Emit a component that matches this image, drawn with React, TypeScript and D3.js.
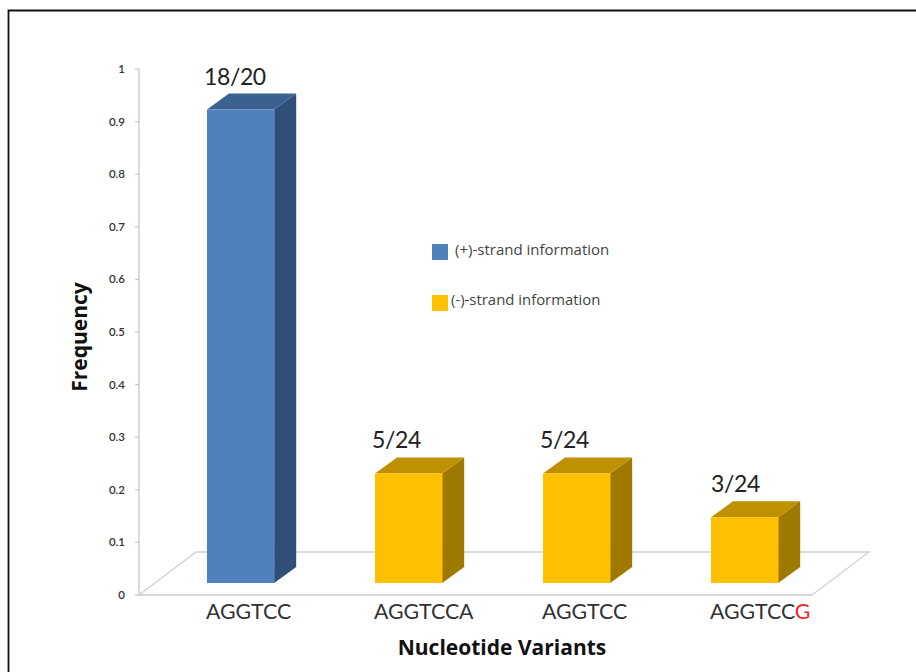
import React from "react";
import * as d3 from "d3";

const categories = ["AGGTCC", "AGGTCCA", "AGGTCC", "AGGTCCG"];
const fractions = ["18/20", "5/24", "5/24", "3/24"];
const frequencies = [18 / 20, 5 / 24, 5 / 24, 3 / 24];
const strands = ["plus", "minus", "minus", "minus"];
const yTicks = [0, 0.1, 0.2, 0.3, 0.4, 0.5, 0.6, 0.7, 0.8, 0.9, 1];
const legendLabels = ["(+)-strand information", "(-)-strand information"];

const LABEL_FONT = "Lato, 'Open Sans', sans-serif";
const TITLE_FONT = "'Open Sans', Lato, sans-serif";
const palette: Record<string, { front: string; top: string; side: string }> = {
  plus: { front: "#4f81bd", top: "#3b6191", side: "#2f4e78" },
  minus: { front: "#ffc000", top: "#bf9000", side: "#a07a00" },
};

const axisX = 139;
const floorDepth = { dx: 57, dy: -43 };
const barDepth = { dx: 22, dy: -16 };
const barLift = 12;

export default function App() {
  const y = d3.scaleLinear().domain([0, 1]).range([595, 69]);
  const x = d3.scaleBand<number>().domain(d3.range(4)).range([156.6, 828.6]).paddingInner(0.6).paddingOuter(0.3);
  const floorRight = 812;
  const base = y(0);
  const floor = d3.line()([
    [axisX, base],
    [axisX + floorDepth.dx, base + floorDepth.dy],
    [floorRight + floorDepth.dx, base + floorDepth.dy],
    [floorRight, base],
  ]);

  return (
    <svg
      width={916}
      height={672}
      style={{ position: "absolute", left: 0, top: 0, background: "#fff", fontFamily: LABEL_FONT }}
    >
      {/* Outer frame: left and top rules only */}
      <path d="M8.5 672V10.5H916" fill="none" stroke="#111" strokeWidth={1.8} />

      {/* Floor and vertical axis */}
      <path d={floor ?? ""} fill="none" stroke="#d0d0d0" strokeWidth={1.3} />
      <line x1={axisX} x2={floorRight} y1={base} y2={base} stroke="#c8c8c8" strokeWidth={1.3} />
      <line x1={axisX} x2={axisX} y1={y(1)} y2={base} stroke="#c8c8c8" strokeWidth={1.3} />
      {yTicks.map((t) => (
        <g key={t}>
          <line x1={axisX - 4} x2={axisX} y1={y(t)} y2={y(t)} stroke="#c8c8c8" strokeWidth={1.2} />
          <text x={125} y={y(t)} dy="0.35em" textAnchor="end" fontSize={11.5} fontWeight={600} fill="#333">
            {t}
          </text>
        </g>
      ))}

      {/* Extruded columns */}
      {frequencies.map((v, i) => {
        const left = x(i) as number;
        const w = x.bandwidth();
        const bottom = base - barLift;
        const top = y(v) - barLift;
        const c = palette[strands[i]];
        const { dx, dy } = barDepth;
        const topFace = d3.line()([
          [left, top],
          [left + dx, top + dy],
          [left + w + dx, top + dy],
          [left + w, top],
        ]);
        const sideFace = d3.line()([
          [left + w, top],
          [left + w + dx, top + dy],
          [left + w + dx, bottom + dy],
          [left + w, bottom],
        ]);
        return (
          <g key={i}>
            <path d={(sideFace ?? "") + "Z"} fill={c.side} />
            <path d={(topFace ?? "") + "Z"} fill={c.top} />
            <rect x={left} y={top} width={w} height={bottom - top} fill={c.front} />
            <text x={left - (i === 3 ? 0 : 3)} y={top + dy - 9} fontSize={23} letterSpacing={-0.4} fill="#222">
              {fractions[i]}
            </text>
            <text x={left - 1} y={619} fontSize={21.3} fill="#333">
              {i === 3 ? (
                <>
                  {categories[i].slice(0, -1)}
                  <tspan fill="#f0282d">{categories[i].slice(-1)}</tspan>
                </>
              ) : (
                categories[i]
              )}
            </text>
          </g>
        );
      })}

      {/* Axis titles */}
      <text x={502} y={655} textAnchor="middle" fontSize={21} fontWeight={700} fill="#111" fontFamily={TITLE_FONT}>
        Nucleotide Variants
      </text>
      <text
        transform="translate(87,337) rotate(-90)"
        textAnchor="middle"
        fontSize={21}
        fontWeight={700}
        fill="#111"
        fontFamily={TITLE_FONT}
      >
        Frequency
      </text>

      {/* Legend */}
      <rect x={432} y={244} width={16} height={16} fill={palette.plus.front} />
      <text x={455} y={255} fontSize={15} fill="#444" fontFamily={TITLE_FONT}>
        {legendLabels[0]}
      </text>
      <rect x={432} y={295} width={16} height={16} fill={palette.minus.front} />
      <text x={451} y={305} fontSize={14.9} fill="#444" fontFamily={TITLE_FONT}>
        {legendLabels[1]}
      </text>
    </svg>
  );
}
